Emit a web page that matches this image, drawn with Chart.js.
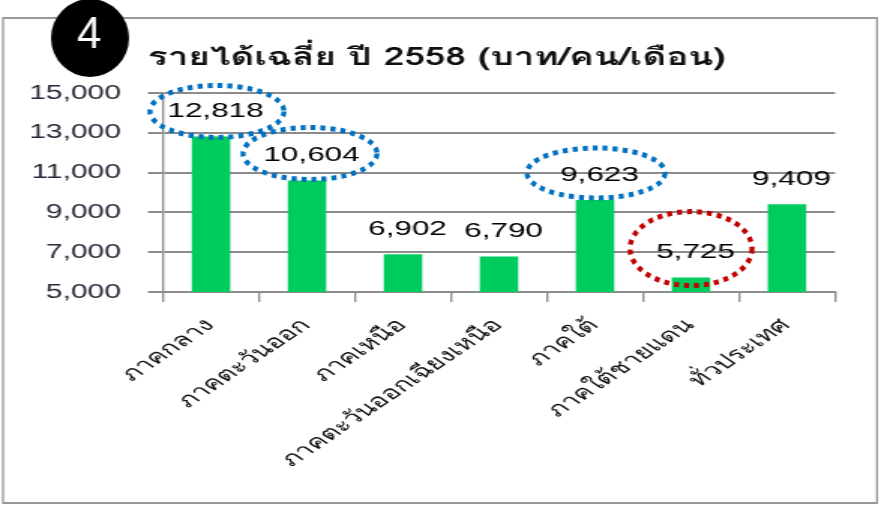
<!DOCTYPE html>
<html>
<head>
<meta charset="utf-8">
<script src="https://cdn.jsdelivr.net/npm/chart.js@4.4.1/dist/chart.umd.min.js"></script>
<style>
  html, body { margin: 0; padding: 0; background: #ffffff; }
  #wrap { width: 881px; height: 505px; overflow: hidden; position: relative; }
  #c { position: absolute; left: 0; top: 0; transform-origin: 0 0; }
</style>
</head>
<body>
<div id="wrap"><canvas id="c" width="587" height="505"></canvas></div>
<script>
// ---- data ----
const chartTitle = 'รายได้เฉลี่ย ปี 2558 (บาท/คน/เดือน)';
const badgeText = '4';
const regions = ['ภาคกลาง', 'ภาคตะวันออก', 'ภาคเหนือ', 'ภาคตะวันออกเฉียงเหนือ', 'ภาคใต้', 'ภาคใต้ชายแดน', 'ทั่วประเทศ'];
const incomeValues = [12818, 10604, 6902, 6790, 9623, 5725, 9409];
const yTickValues = [5000, 7000, 9000, 11000, 13000, 15000];
const highlightBlue = [0, 1, 4];
const highlightRed = [5];

// ---- layout / style ----
const W = 881, H = 505, IW = 587;
const S = W / IW; // horizontal stretch of the picture
const canvas = document.getElementById('c');
canvas.style.width = IW + 'px';
canvas.style.height = H + 'px';
canvas.style.transform = 'scaleX(' + S + ')';

const NUM_FONT = '"Liberation Sans", Arial, sans-serif';
const THAI_FONT = 'Loma, Waree, Garuda, Norasi, "Noto Sans Thai Looped", "Noto Serif Thai", Tahoma, "Liberation Sans", sans-serif';
const GRID = '#8c8c8c';
const fmt = v => v.toLocaleString('en-US');

const ellipseSpec = {
  0: { dx: 6, dy: 0, rx: 67, ry: 26, color: '#0070c0' },
  1: { dx: 3, dy: -2, rx: 67, ry: 26, color: '#0070c0' },
  4: { dx: 1, dy: -2, rx: 69, ry: 25, color: '#0070c0' },
  5: { dx: 0, dy: -4, rx: 61, ry: 37, color: '#c00000' }
};

const deco = {
  id: 'deco',
  beforeDraw(chart) {
    const ctx = chart.ctx;
    ctx.save();
    ctx.fillStyle = '#ffffff';
    ctx.fillRect(0, 0, chart.width, chart.height);
    ctx.scale(1 / S, 1);
    ctx.strokeStyle = '#999999';
    ctx.lineWidth = 2;
    ctx.strokeRect(3, 18, 874, 485);
    ctx.restore();
  },
  afterDraw(chart) {
    const ctx = chart.ctx;
    const meta = chart.getDatasetMeta(0);
    // data labels
    ctx.save();
    ctx.font = '21px ' + NUM_FONT;
    ctx.fillStyle = '#000000';
    ctx.textAlign = 'center';
    ctx.textBaseline = 'middle';
    const labelPos = [];
    meta.data.forEach((bar, i) => {
      const lx = bar.x + 3;
      const ly = bar.y - 25;
      labelPos.push({ x: lx, y: ly });
      ctx.fillText(fmt(incomeValues[i]), lx, ly);
    });
    ctx.restore();
    // dotted ellipses (drawn in picture coordinates)
    ctx.save();
    ctx.scale(1 / S, 1);
    const drawEll = (i) => {
      const sp = ellipseSpec[i];
      const cx = meta.data[i].x * S + sp.dx;
      const cy = labelPos[i].y + sp.dy;
      ctx.beginPath();
      ctx.ellipse(cx, cy, sp.rx, sp.ry, 0, 0, Math.PI * 2);
      ctx.strokeStyle = sp.color;
      ctx.lineWidth = 5;
      ctx.setLineDash([5, 5]);
      ctx.stroke();
    };
    highlightBlue.forEach(drawEll);
    highlightRed.forEach(drawEll);
    ctx.setLineDash([]);
    // badge
    ctx.beginPath();
    ctx.arc(90, 38, 39, 0, Math.PI * 2);
    ctx.fillStyle = '#000000';
    ctx.fill();
    ctx.fillStyle = '#ffffff';
    ctx.font = '44px ' + NUM_FONT;
    ctx.textAlign = 'center';
    ctx.textBaseline = 'middle';
    ctx.fillText(badgeText, 89, 36);
    ctx.restore();
    // title
    ctx.save();
    ctx.font = 'bold 24.5px ' + THAI_FONT;
    ctx.fillStyle = '#111111';
    ctx.textAlign = 'left';
    ctx.textBaseline = 'alphabetic';
    ctx.fillText(chartTitle, 148 / S, 65);
    ctx.restore();
  }
};

new Chart(canvas.getContext('2d'), {
  type: 'bar',
  data: {
    labels: regions,
    datasets: [{
      data: incomeValues,
      backgroundColor: '#00cc5e',
      barPercentage: 0.4,
      categoryPercentage: 1
    }]
  },
  options: {
    responsive: false,
    animation: false,
    layout: { padding: { top: 93, right: IW - 835 / S, left: 0, bottom: 0 } },
    plugins: { legend: { display: false }, tooltip: { enabled: false }, title: { display: false } },
    scales: {
      x: {
        grid: { offset: true, drawOnChartArea: false, tickLength: 10, lineWidth: 2 / S, color: GRID },
        border: { color: GRID, width: 2 },
        ticks: {
          font: { family: THAI_FONT, size: 19 },
          color: '#111111',
          minRotation: 45, maxRotation: 45,
          autoSkip: false,
          padding: 13
        },
        afterFit(a) { a.height = H - 292; }
      },
      y: {
        min: 5000, max: 15000,
        afterBuildTicks(a) { a.ticks = yTickValues.map(v => ({ value: v })); },
        ticks: {
          callback: v => fmt(v),
          font: { family: NUM_FONT, size: 20 },
          color: '#2a2a3a',
          padding: 18
        },
        grid: { color: GRID, lineWidth: 2, tickLength: 10 },
        border: { color: GRID, width: 2 / S },
        afterFit(a) { a.width = 163 / S; }
      }
    }
  },
  plugins: [deco]
});
</script>
</body>
</html>
